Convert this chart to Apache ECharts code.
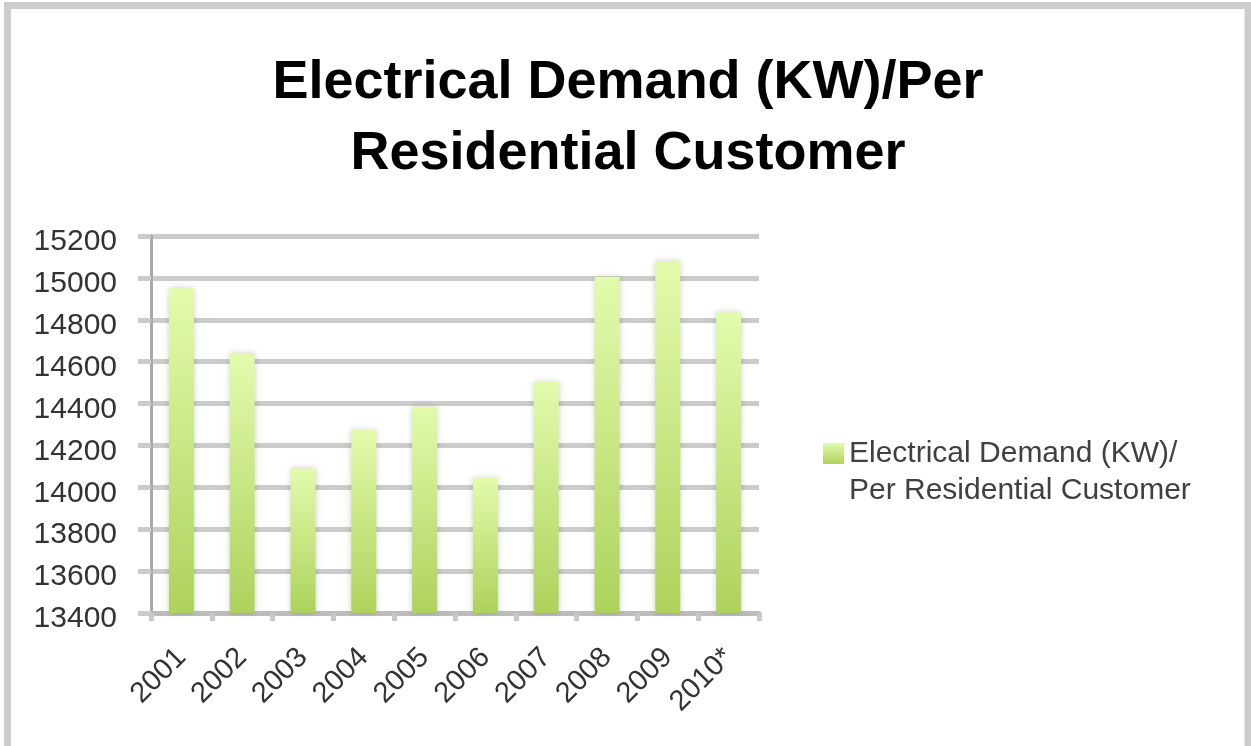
<!DOCTYPE html>
<html>
<head>
<meta charset="utf-8">
<script src="https://cdn.jsdelivr.net/npm/echarts@6/dist/echarts.min.js"></script>
<style>
  html, body { margin: 0; padding: 0; background: #fff; }
  #chart { width: 1251px; height: 746px; }
</style>
</head>
<body>
<div id="chart"></div>
<script>
// values
const years = ['2001', '2002', '2003', '2004', '2005', '2006', '2007', '2008', '2009', '2010*'];
const demand = [14950, 14640, 14090, 14275, 14385, 14045, 14505, 15005, 15080, 14835];
const seriesName = 'Electrical Demand (KW)/\nPer Residential Customer';

const chart = echarts.init(document.getElementById('chart'));

chart.setOption({
  animation: false,
  textStyle: { fontFamily: 'Liberation Sans, Arial, sans-serif' },
  graphic: [
    {
      type: 'rect',
      shape: { x: 7.5, y: 5.5, width: 1240.5, height: 800 },
      style: { fill: 'none', stroke: '#cccccc', lineWidth: 7 },
      silent: true
    }
  ],
  title: {
    text: 'Electrical Demand (KW)/Per\nResidential Customer',
    left: 628,
    top: 48,
    padding: 0,
    textAlign: 'center',
    textStyle: {
      fontFamily: 'Liberation Sans, Arial, sans-serif',
      fontWeight: 'bold',
      fontSize: 54,
      lineHeight: 71,
      color: '#000'
    }
  },
  legend: {
    left: 823,
    top: 398,
    padding: 0,
    itemWidth: 21,
    itemHeight: 21,
    icon: 'rect',
    // empty first line so the marker sits beside the first text line
    formatter: function (name) { return ' \n' + name; },
    textStyle: {
      fontSize: 30,
      lineHeight: 37,
      color: '#404040'
    }
  },
  grid: {
    left: 151,
    right: 492,
    top: 236,
    bottom: 133
  },
  xAxis: {
    type: 'category',
    data: years,
    axisLine: { lineStyle: { color: '#bcbcbc', width: 5 } },
    axisTick: { show: true, length: 8, lineStyle: { color: '#c8c8c8', width: 5 } },
    axisLabel: {
      rotate: 45,
      margin: 40,
      fontSize: 29,
      color: '#333'
    }
  },
  yAxis: {
    type: 'value',
    min: 13400,
    max: 15200,
    interval: 200,
    axisLine: { show: true, lineStyle: { color: '#a8a8a8', width: 3 } },
    axisTick: { show: true, length: 13, lineStyle: { color: '#cbcbcb', width: 5 } },
    splitLine: { lineStyle: { color: '#cbcbcb', width: 5 } },
    axisLabel: {
      margin: 34,
      formatter: function (v) { return '{v|' + v + '}'; },
      rich: {
        v: { fontSize: 30, color: '#333', padding: [12, 0, 0, 0] }
      }
    }
  },
  series: [
    {
      name: seriesName,
      type: 'bar',
      data: demand,
      barWidth: 25,
      itemStyle: {
        color: {
          type: 'linear', x: 0, y: 0, x2: 0, y2: 1,
          colorStops: [
            { offset: 0, color: '#e3fbad' },
            { offset: 1, color: '#aed25c' }
          ]
        },
        shadowBlur: 6,
        shadowColor: 'rgba(0,0,0,0.18)'
      }
    }
  ]
});
</script>
</body>
</html>
